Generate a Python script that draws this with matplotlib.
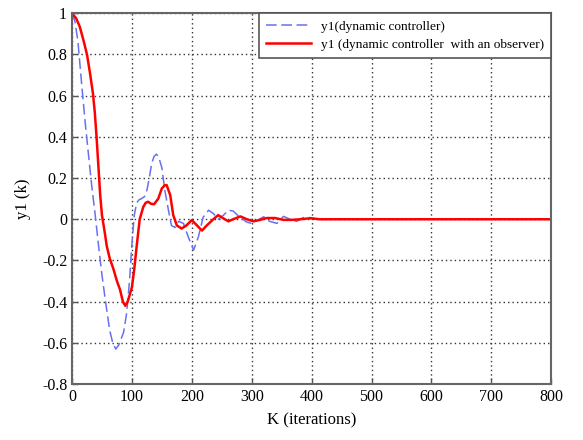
import numpy as np
import matplotlib.pyplot as plt

plt.rcParams['font.family'] = ['Liberation Serif', 'DejaVu Serif']

# y1 with the dynamic controller (dashed blue)
k_dyn = [0, 5, 10, 16, 22, 28, 33, 38, 44, 50, 56, 63, 68, 73, 78, 86, 91, 96,
         100, 104, 108, 112, 116, 121, 125, 129, 133, 137, 141, 145, 150, 155,
         161, 166, 172, 178, 186, 194, 203, 211, 219, 228, 236, 244, 253, 261,
         269, 280, 292, 300, 310, 320, 330, 342, 353, 364, 375, 386, 398, 409,
         420, 440, 460]
y_dyn = [1.0, 0.96, 0.86, 0.66, 0.47, 0.30, 0.16, 0.04, -0.12, -0.27, -0.40,
         -0.54, -0.60, -0.63, -0.61, -0.55, -0.46, -0.30, -0.12, 0.02, 0.08,
         0.095, 0.10, 0.11, 0.14, 0.20, 0.27, 0.305, 0.316, 0.30, 0.25, 0.14,
         0.044, -0.03, -0.04, -0.01, -0.02, -0.085, -0.15, -0.085, 0.01, 0.044,
         0.028, 0.0, 0.02, 0.044, 0.04, 0.01, -0.014, -0.02, -0.004, 0.012,
         -0.01, -0.02, 0.014, 0.0, -0.01, 0.008, 0.008, 0.0, 0.0, 0.0, 0.0]

# y1 with the dynamic controller and an observer (solid red)
k_obs = [0, 7, 13, 19, 25, 30, 35, 38, 41, 44, 47, 50, 55, 58, 63, 69, 75, 80,
         85, 89, 93, 100, 104, 108, 113, 119, 123, 127, 132, 137, 144, 150, 155,
         158, 164, 169, 175, 183, 191, 200, 208, 217, 225, 236, 244, 253, 261,
         269, 281, 292, 303, 314, 325, 339, 353, 367, 381, 398, 414, 430, 800]
y_obs = [1.0, 0.975, 0.934, 0.87, 0.80, 0.71, 0.61, 0.52, 0.40, 0.26, 0.12,
         0.02, -0.07, -0.13, -0.19, -0.24, -0.30, -0.34, -0.40, -0.42, -0.40,
         -0.33, -0.24, -0.13, 0.0, 0.06, 0.08, 0.085, 0.075, 0.073, 0.10, 0.15,
         0.165, 0.166, 0.117, 0.02, -0.03, -0.045, -0.03, -0.004, -0.028,
         -0.055, -0.03, 0.0, 0.02, 0.004, -0.01, 0.0, 0.014, 0.0, -0.01,
         -0.003, 0.006, 0.006, -0.003, -0.003, 0.0, 0.005, 0.0, 0.0, 0.0]

fig = plt.figure(figsize=(5.83, 4.40), dpi=100)
ax = fig.add_axes([0.1235, 0.127, 0.822, 0.843])

ax.plot(k_dyn, y_dyn, color='#6870f0', linewidth=1.1, dashes=(7, 3),
        label='y1(dynamic controller)')
ax.plot(k_obs, y_obs, color='#ff0000', linewidth=1.8,
        label='y1 (dynamic controller  with an observer)')

ax.set_xlim(0, 800)
ax.set_ylim(-0.8, 1.0)
ax.set_xticks(np.arange(0, 801, 100))
ax.set_yticks(np.arange(-0.8, 1.01, 0.2))
ax.set_yticklabels(['-0.8', '-0.6', '-0.4', '-0.2', '0', '0.2', '0.4', '0.6', '0.8', '1'])
ax.tick_params(direction='in', length=4, width=1, colors='#555555',
               labelcolor='black', labelsize=11.5, top=False, right=False)
ax.grid(True, color='#333333', linestyle=(0, (1, 2.2)), linewidth=1.0)
for s in ax.spines.values():
    s.set_color('#666666')
    s.set_linewidth(1.5)

ax.set_xlabel('K (iterations)', fontsize=12, labelpad=5)
ax.set_ylabel('y1 (k)', fontsize=12, labelpad=8)

leg = ax.legend(loc='upper right', borderaxespad=0, fontsize=9.6,
                fancybox=False, framealpha=1, edgecolor='#555555',
                handlelength=3.4, handletextpad=0.7, borderpad=0.55,
                labelspacing=0.4)
leg.get_frame().set_linewidth(1.2)

fig.savefig('out.png', dpi=100)
